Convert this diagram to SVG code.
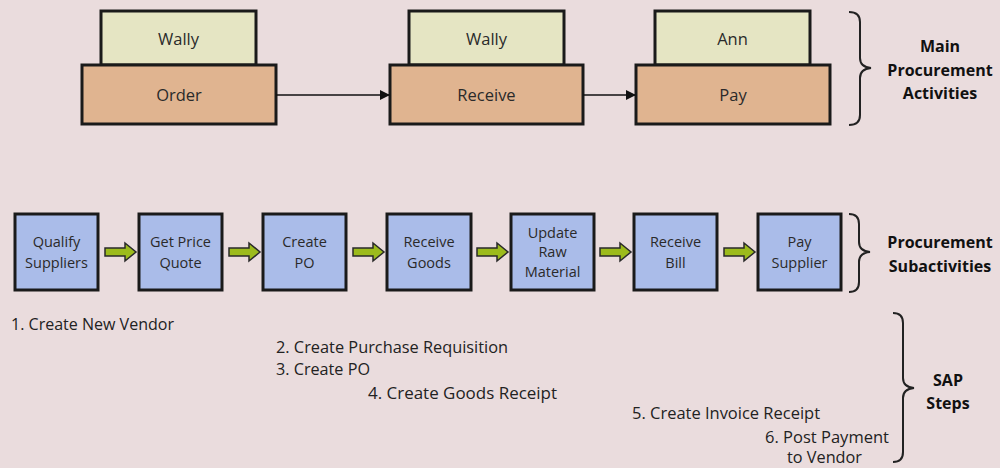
<svg xmlns="http://www.w3.org/2000/svg" width="1000" height="468" viewBox="0 0 1000 468">
<defs>
<style>
.bg{fill:#eadcdd}
.who{fill:#e5e5c3;stroke:#1a1a1a;stroke-width:3}
.act{fill:#e0b490;stroke:#1a1a1a;stroke-width:3}
.sub{fill:#aabce9;stroke:#1a1a1a;stroke-width:3}
.t{font-family:"Open Sans","Liberation Sans",sans-serif;font-size:16.5px;fill:#2a2a2a;text-anchor:middle}
.s{font-family:"Open Sans","Liberation Sans",sans-serif;font-size:14.5px;fill:#2a2a2a;text-anchor:middle}
.b{font-family:"Open Sans","Liberation Sans",sans-serif;font-size:16px;font-weight:bold;fill:#111;text-anchor:middle}
.step{font-family:"Open Sans","Liberation Sans",sans-serif;font-size:16px;fill:#222}
.brace{fill:none;stroke:#222;stroke-width:2}
.conn{stroke:#111;stroke-width:1.5;fill:none}
.garrow{fill:#9cbb1c;stroke:#2a2a2a;stroke-width:1.5;stroke-linejoin:miter}
</style>
<marker id="ah" markerWidth="10" markerHeight="10" refX="9" refY="5" orient="auto" markerUnits="userSpaceOnUse">
<path d="M0,0 L10,5 L0,10 Z" fill="#111"/>
</marker>
<path id="ga" d="M0,-4 L20,-4 L20,-9 L31,0 L20,9 L20,4 L0,4 Z"/>
</defs>
<rect class="bg" x="0" y="0" width="1000" height="468"/>

<g id="order">
<rect class="who" x="101" y="11" width="155" height="54"/>
<text class="t" x="178.5" y="45">Wally</text>
<rect class="act" x="82" y="65" width="194" height="59"/>
<text class="t" x="179" y="101">Order</text>
</g>
<g id="receive">
<rect class="who" x="409" y="11" width="155" height="54"/>
<text class="t" x="486.5" y="45">Wally</text>
<rect class="act" x="390" y="65" width="193" height="59"/>
<text class="t" x="486.5" y="101">Receive</text>
</g>
<g id="pay">
<rect class="who" x="655" y="11" width="155" height="54"/>
<text class="t" x="732.5" y="45">Ann</text>
<rect class="act" x="636" y="65" width="194" height="59"/>
<text class="t" x="733" y="101">Pay</text>
</g>

<g id="sub1"><rect class="sub" x="15" y="214" width="83" height="76"/><text class="s" x="56.5" y="247">Qualify</text><text class="s" x="56.5" y="268">Suppliers</text></g>
<g id="sub2"><rect class="sub" x="139" y="214" width="83" height="76"/><text class="s" x="180.5" y="247">Get Price</text><text class="s" x="180.5" y="268">Quote</text></g>
<g id="sub3"><rect class="sub" x="263" y="214" width="83" height="76"/><text class="s" x="304.5" y="247">Create</text><text class="s" x="304.5" y="268">PO</text></g>
<g id="sub4"><rect class="sub" x="387" y="214" width="84" height="76"/><text class="s" x="429" y="247">Receive</text><text class="s" x="429" y="268">Goods</text></g>
<g id="sub5"><rect class="sub" x="511" y="214" width="83" height="76"/><text class="s" x="552.5" y="238">Update</text><text class="s" x="552.5" y="257">Raw</text><text class="s" x="552.5" y="277">Material</text></g>
<g id="sub6"><rect class="sub" x="634" y="214" width="83" height="76"/><text class="s" x="675.5" y="247">Receive</text><text class="s" x="675.5" y="268">Bill</text></g>
<g id="sub7"><rect class="sub" x="758" y="214" width="83" height="76"/><text class="s" x="799.5" y="247">Pay</text><text class="s" x="799.5" y="268">Supplier</text></g>

<g id="connectors">
<line class="conn" x1="276" y1="95" x2="389" y2="95" marker-end="url(#ah)"/>
<line class="conn" x1="583" y1="95" x2="635" y2="95" marker-end="url(#ah)"/>
<use href="#ga" class="garrow" x="105" y="252"/>
<use href="#ga" class="garrow" x="229" y="252"/>
<use href="#ga" class="garrow" x="353" y="252"/>
<use href="#ga" class="garrow" x="477" y="252"/>
<use href="#ga" class="garrow" x="600" y="252"/>
<use href="#ga" class="garrow" x="724" y="252"/>
</g>

<g id="brace-main">
<path class="brace" d="M849,12 Q860,12 860,22 L860,58 Q860,67 871,68 Q860,69 860,78 L860,115 Q860,125 849,125"/>
<text class="b" x="940" y="52">Main</text>
<text class="b" x="940" y="76">Procurement</text>
<text class="b" x="940" y="99">Activities</text>
</g>
<g id="brace-sub">
<path class="brace" d="M849,214 Q859,214 859,224 L859,242 Q859,251 870,252 Q859,253 859,262 L859,282 Q859,292 849,292"/>
<text class="b" x="940" y="248">Procurement</text>
<text class="b" x="940" y="272">Subactivities</text>
</g>
<g id="brace-sap">
<path class="brace" d="M893,313 Q903,313 903,323 L903,378 Q903,387 914,388 Q903,389 903,398 L903,452 Q903,462 893,462"/>
<text class="b" x="948" y="386">SAP</text>
<text class="b" x="948" y="409">Steps</text>
</g>

<g id="steps">
<text class="step" x="11" y="330" textLength="163" lengthAdjust="spacingAndGlyphs">1. Create New Vendor</text>
<text class="step" x="276" y="353" textLength="232" lengthAdjust="spacingAndGlyphs">2. Create Purchase Requisition</text>
<text class="step" x="276" y="375" textLength="94" lengthAdjust="spacingAndGlyphs">3. Create PO</text>
<text class="step" x="368" y="399" textLength="189" lengthAdjust="spacingAndGlyphs">4. Create Goods Receipt</text>
<text class="step" x="632" y="419" textLength="188" lengthAdjust="spacingAndGlyphs">5. Create Invoice Receipt</text>
<text class="step" x="765" y="443" textLength="124" lengthAdjust="spacingAndGlyphs">6. Post Payment</text>
<text class="step" x="787" y="463" textLength="75" lengthAdjust="spacingAndGlyphs">to Vendor</text>
</g>
</svg>
